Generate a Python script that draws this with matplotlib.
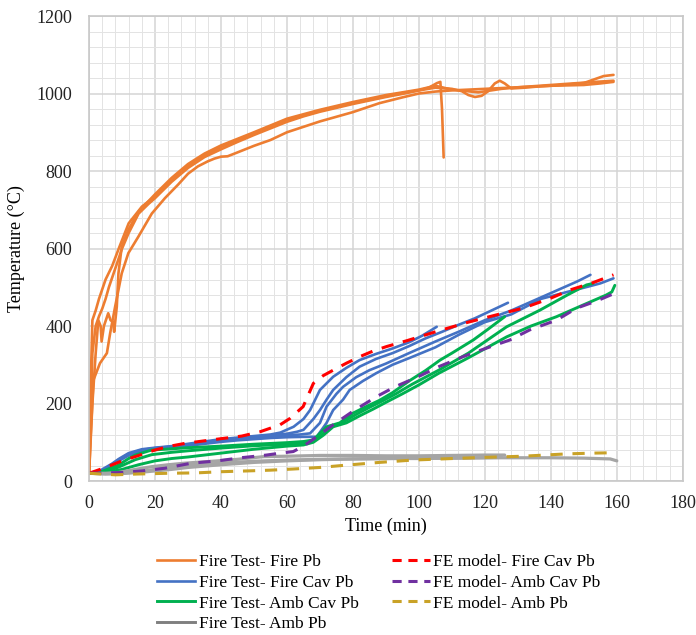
"""Temperature histories: fire test thermocouples vs FE model."""

import matplotlib.pyplot as plt
from matplotlib.lines import Line2D
from matplotlib.ticker import MultipleLocator

plt.rcParams["font.family"] = ["Liberation Serif", "DejaVu Serif"]

# Fire Test - Fire Pb (four thermocouples)
fire_pb_t1 = [0, 0.5, 1, 2, 3, 5, 7, 9, 12, 16, 20, 25, 30, 35, 40, 45, 50, 55, 60, 65, 70, 75, 80, 85, 90,
              95, 100, 105, 110, 113, 115, 117, 119, 121, 123, 124.5, 126, 128, 132, 136, 140, 145, 150, 153,
              156, 159]
fire_pb_T1 = [20, 250, 415, 440, 470, 520, 555, 600, 665, 708, 735, 775, 812, 840, 862, 880, 897, 913, 930,
              943, 955, 965, 975, 984, 993, 1001, 1008, 1015, 1012, 1006, 996, 991, 994, 1006, 1026, 1033,
              1026, 1013, 1015, 1018, 1020, 1023, 1027, 1036, 1045, 1048]
fire_pb_t2 = [0, 0.5, 1, 2, 3, 4, 5, 6, 7, 8, 9, 10, 12, 15, 18, 20, 25, 30, 35, 40, 45, 50, 55, 60, 65, 70,
              75, 80, 85, 90, 95, 100, 103, 105.5, 106.5, 107, 107.5]
fire_pb_T2 = [20, 180, 330, 400, 425, 445, 470, 500, 525, 550, 575, 600, 640, 690, 715, 730, 772, 808, 836,
              856, 875, 893, 910, 927, 941, 953, 963, 973, 982, 991, 999, 1008, 1015, 1027, 1030, 960, 835]
fire_pb_t3 = [0, 1, 2, 2.8, 3.5, 3.8, 4.5, 5.8, 6.5, 7.3, 7.6, 8.4, 8.9, 9.9, 12, 15, 20, 25, 30, 35, 40, 50,
              60, 70, 80, 90, 100, 105, 110, 118, 125, 130, 140, 150, 155, 159]
fire_pb_T3 = [20, 200, 330, 415, 400, 360, 400, 433, 415, 410, 385, 450, 536, 605, 650, 695, 740, 782, 818,
              845, 866, 900, 935, 958, 978, 996, 1010, 1020, 1010, 1003, 1012, 1016, 1020, 1022, 1026, 1030]
fire_pb_t4 = [0, 0.5, 1.3, 3.3, 5.4, 6.4, 7.9, 9.9, 11.9, 14.9, 19, 23, 27, 30, 33, 36, 38, 40, 42, 45, 50,
              55, 60, 70, 80, 88, 95, 100, 105, 110, 120, 130, 140, 150, 159]
fire_pb_T4 = [20, 120, 260, 304, 330, 382, 450, 536, 588, 630, 690, 730, 765, 793, 812, 825, 832, 837, 838,
              848, 865, 880, 900, 928, 952, 975, 990, 1000, 1005, 1008, 1012, 1016, 1022, 1028, 1033]

# Fire Test - Fire Cav Pb
fire_cav_t1 = [0, 3, 5, 7, 9, 12, 16, 20, 25, 30, 35, 40, 45, 50, 55, 58, 62, 65, 67, 70, 74, 78, 82, 87, 92,
               97, 101, 105.4]
fire_cav_T1 = [20, 25, 35, 45, 57, 72, 82, 86, 90, 96, 102, 108, 112, 116, 120, 125, 140, 160, 183, 235, 269,
               292, 312, 328, 342, 358, 375, 398]
fire_cav_t2 = [0, 3, 5, 7, 9, 12, 16, 20, 25, 30, 35, 40, 45, 50, 55, 60, 63, 65, 68, 70, 72, 74, 78, 82, 87,
               92, 97, 102, 107, 112, 117, 122, 127]
fire_cav_T2 = [20, 24, 33, 43, 55, 70, 80, 85, 89, 94, 100, 106, 110, 114, 118, 122, 127, 132, 160, 183, 210,
               235, 268, 295, 315, 330, 348, 368, 385, 403, 420, 440, 460]
fire_cav_t3 = [0, 3, 5, 7, 9, 12, 16, 20, 25, 30, 35, 40, 45, 50, 55, 60, 64, 67, 70, 72, 75, 77, 81, 85, 90,
               97, 105, 112, 120, 128, 136, 144, 148, 152]
fire_cav_T3 = [20, 23, 31, 42, 53, 68, 78, 84, 88, 93, 98, 104, 108, 112, 115, 118, 120, 123, 150, 192, 225,
               243, 268, 286, 303, 330, 360, 385, 415, 440, 470, 500, 515, 532]
fire_cav_t4 = [0, 3, 5, 7, 9, 12, 16, 20, 25, 30, 35, 40, 45, 50, 55, 60, 65, 69, 72, 74, 77, 79, 83, 87, 92,
               97, 105, 112, 120, 128, 137, 145, 151, 155, 159]
fire_cav_T4 = [20, 22, 30, 40, 52, 66, 77, 82, 86, 91, 96, 101, 105, 108, 111, 113, 114, 114, 150, 183, 210,
               235, 258, 278, 300, 317, 345, 377, 410, 430, 470, 488, 501, 510, 523]

# Fire Test - Amb Cav Pb
amb_cav_t1 = [0, 4, 8.9, 12, 14, 19, 25, 30, 40, 50, 55, 60, 65, 68, 72, 76, 80, 84, 88, 92, 97, 102, 106.4,
              110, 116.5, 121, 126]
amb_cav_T1 = [20, 25, 41, 58, 67, 80, 83, 86, 90, 95, 97, 99, 102, 106, 140, 150, 175, 192, 208, 228, 258, 285,
              312, 330, 364, 392, 424]
amb_cav_t2 = [0, 5, 9, 14, 19, 25, 30, 40, 50, 55, 60, 66, 70, 73, 77, 81, 85, 89, 93, 98, 106, 115, 126.6,
              136.7, 145, 150.8, 152.8]
amb_cav_T2 = [20, 24, 36, 55, 68, 74, 78, 85, 91, 93, 95, 98, 115, 138, 152, 172, 190, 207, 225, 250, 286, 330,
              398, 441, 480, 506, 510]
amb_cav_t3 = [0, 5, 10, 15, 20, 25, 30, 40, 50, 60, 65, 68, 71, 74, 78, 82, 86, 90, 95, 100, 106, 115, 126.6,
              134, 141.7, 150, 156.8, 158.5, 159.4]
amb_cav_T3 = [20, 22, 30, 42, 52, 58, 62, 72, 82, 90, 93, 100, 118, 140, 150, 168, 185, 203, 225, 248, 278,
              318, 372, 400, 424, 455, 480, 488, 505]

# Fire Test - Amb Pb
amb_pb_t1 = [0, 5, 9, 14, 19, 24, 29, 34, 39, 45, 53, 60, 70, 80, 90, 100, 110, 120, 126]
amb_pb_T1 = [20, 20, 22, 30, 37, 42, 46, 49, 52, 56, 63, 64, 66, 66, 65, 65, 66, 67, 67]
amb_pb_t2 = [0, 5, 10, 15, 20, 25, 30, 40, 50, 60, 70, 80, 90, 100, 110, 120, 130, 140, 150, 158, 160]
amb_pb_T2 = [20, 18, 19, 24, 30, 36, 40, 46, 51, 54, 56, 57, 58, 59, 59, 60, 60, 60, 59, 57, 52]
amb_pb_t3 = [0, 5, 10, 15, 20, 25, 30, 40, 50, 60, 70, 80, 90, 100, 110, 120, 125]
amb_pb_T3 = [20, 19, 20, 22, 26, 30, 35, 42, 48, 52, 55, 57, 58, 58, 59, 60, 61]

# FE model predictions
fe_fire_cav_t = [0, 5, 10, 14, 20, 24, 29, 37, 46.3, 51.8, 57.9, 61, 64.9, 68, 71, 74, 78, 82.1, 86, 90.2,
                 96.3, 105, 115, 125, 131.6, 140, 145.8, 152.8, 159]
fe_fire_cav_T = [20, 35, 52, 63, 80, 89, 97, 106, 116, 127, 145, 162, 192, 252, 272, 286, 304, 321, 335, 347,
                 362, 385, 410, 432, 446, 472, 493, 512, 532]
fe_amb_cav_t = [0, 10, 16, 23, 31, 39, 46, 53.8, 58, 61.9, 65, 69, 74, 80, 87.2, 92.7, 100, 106, 113.4,
                120.5, 127.6, 133.6, 141.7, 147.8, 154, 159.5]
fe_amb_cav_T = [20, 22, 26, 33, 46, 52, 60, 67, 72, 76, 90, 114, 145, 180, 218, 243, 270, 295, 321, 343, 364,
                390, 415, 446, 465, 485]
fe_amb_pb_t = [0, 4, 8, 14.4, 24, 32.6, 40, 47.8, 55, 62, 70, 78, 88, 98, 110, 120, 131.5, 144.8, 152.8,
               159.4]
fe_amb_pb_T = [20, 18, 16, 18, 20, 21, 24, 26, 28, 31, 35, 41, 48, 54, 58, 61, 64, 70, 72, 73]

ORANGE = "#ED7D31"
BLUE = "#4472C4"
GREEN = "#00B050"
GRAY = "#A5A5A5"
RED = "#FF0000"
PURPLE = "#7030A0"
GOLD = "#C9A227"

fig = plt.figure(figsize=(6.96, 6.35), dpi=100)
ax = fig.add_axes([0.128, 0.2425, 0.853, 0.7323])

solid = [
    (ORANGE, 1.9, [(fire_pb_t1, fire_pb_T1), (fire_pb_t2, fire_pb_T2), (fire_pb_t3, fire_pb_T3),
                   (fire_pb_t4, fire_pb_T4)]),
    (BLUE, 1.9, [(fire_cav_t1, fire_cav_T1), (fire_cav_t2, fire_cav_T2), (fire_cav_t3, fire_cav_T3),
                 (fire_cav_t4, fire_cav_T4)]),
    (GREEN, 2.1, [(amb_cav_t1, amb_cav_T1), (amb_cav_t2, amb_cav_T2), (amb_cav_t3, amb_cav_T3)]),
    (GRAY, 2.3, [(amb_pb_t1, amb_pb_T1), (amb_pb_t2, amb_pb_T2), (amb_pb_t3, amb_pb_T3)]),
]
for color, lw, curves in solid:
    for t, T in curves:
        ax.plot(t, T, color=color, lw=lw, solid_joinstyle="round", solid_capstyle="round")

for t, T, color in [(fe_fire_cav_t, fe_fire_cav_T, RED), (fe_amb_cav_t, fe_amb_cav_T, PURPLE),
                    (fe_amb_pb_t, fe_amb_pb_T, GOLD)]:
    ax.plot(t, T, color=color, lw=2.2, dashes=(4, 3.2))

ax.set_xlim(0, 180)
ax.set_ylim(0, 1200)
ax.xaxis.set_major_locator(MultipleLocator(20))
ax.xaxis.set_minor_locator(MultipleLocator(4))
ax.yaxis.set_major_locator(MultipleLocator(200))
ax.yaxis.set_minor_locator(MultipleLocator(40))
ax.grid(which="major", color="#d4d4d4", lw=1.1)
ax.grid(which="minor", color="#e3e3e3", lw=0.7)
ax.set_axisbelow(True)
for s in ax.spines.values():
    s.set_color("#c8c8c8")
    s.set_linewidth(1.2)
ax.tick_params(which="both", length=0, labelsize=13, colors="#222222")
ax.tick_params(axis="x", pad=10)
ax.tick_params(axis="y", pad=12)
ax.set_xlabel("Time (min)", fontsize=13, labelpad=4)
ax.set_ylabel("Temperature (°C)", fontsize=13, labelpad=8)

handles = [
    Line2D([], [], color=ORANGE, lw=1.9),
    Line2D([], [], color=BLUE, lw=1.9),
    Line2D([], [], color=GREEN, lw=2.1),
    Line2D([], [], color="#7F7F7F", lw=2.1),
    Line2D([], [], color=RED, lw=2.2, dashes=(3, 2.2)),
    Line2D([], [], color=PURPLE, lw=2.2, dashes=(3, 2.2)),
    Line2D([], [], color=GOLD, lw=2.2, dashes=(3, 2.2)),
]
labels = [
    "Fire Test- Fire Pb", "Fire Test- Fire Cav Pb", "Fire Test- Amb Cav Pb", "Fire Test- Amb Pb",
    "FE model- Fire Cav Pb", "FE model- Amb Cav Pb", "FE model- Amb Pb",
]
fig.legend(handles, labels, ncol=2, loc="upper left", bbox_to_anchor=(0.2256, 0.128),
           frameon=False, fontsize=12.5, handlelength=2.2, handletextpad=0.2,
           labelspacing=0.27, columnspacing=1.9, borderpad=0, borderaxespad=0)

fig.savefig("out.png", dpi=100)
